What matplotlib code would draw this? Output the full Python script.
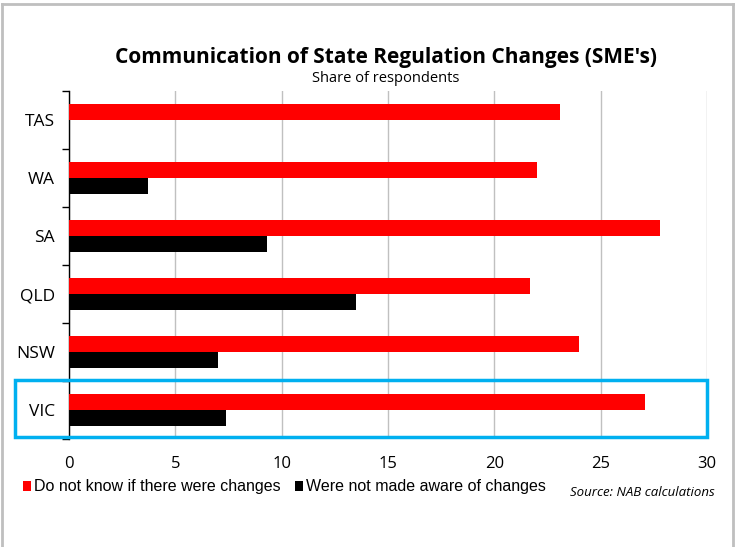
import matplotlib.pyplot as plt
from matplotlib.patches import Rectangle
import numpy as np

# data
states = ['TAS', 'WA', 'SA', 'QLD', 'NSW', 'VIC']
dont_know = [23.1, 22.0, 27.8, 21.7, 24.0, 27.1]
not_aware = [0.0, 3.7, 9.3, 13.5, 7.0, 7.4]
x_ticks = [0, 5, 10, 15, 20, 25, 30]

fig = plt.figure(figsize=(7.4, 5.47), dpi=100)
ax = fig.add_axes([0.0932, 0.1974, 0.8622, 0.6362])

n = len(states)
ypos = np.arange(n)[::-1]  # TAS on top
h = 0.28
ax.barh(ypos + h / 2, dont_know, height=h, color='#ff0000',
        label='Do not know if there were changes', zorder=3)
ax.barh(ypos - h / 2, not_aware, height=h, color='#000000',
        label='Were not made aware of changes', zorder=3)

ax.set_xlim(0, 30)
ax.set_ylim(-0.5, n - 0.5)
ax.set_xticks(x_ticks)
ax.set_xticklabels([str(t) for t in x_ticks], fontsize=12, family='Open Sans')
ax.tick_params(axis='x', length=0, pad=12)
ax.xaxis.grid(True, color='#c0c0c0', linewidth=1, zorder=0)

# category boundaries as major ticks, labels on minor
ax.set_yticks(np.arange(-0.5, n, 1.0))
ax.set_yticklabels([])
ax.set_yticks(ypos, minor=True)
ax.set_yticklabels(states, minor=True, fontsize=12.5, family='Open Sans')
ax.tick_params(axis='y', which='major', length=5, width=1, color='black')
ax.tick_params(axis='y', which='minor', length=0, pad=10)

for s in ['top', 'right', 'bottom']:
    ax.spines[s].set_visible(False)
ax.spines['left'].set_color('black')
ax.spines['left'].set_linewidth(1)

# highlight VIC
box = Rectangle((15 / 740, 1 - 437 / 547), (707 - 15) / 740, (437 - 380) / 547,
                transform=fig.transFigure, fill=False, edgecolor='#00b0f0',
                linewidth=2.5, zorder=5)
fig.patches.append(box)

# outer frame
frame_col = '#bfbfbf'
fig.add_artist(plt.Line2D([2 / 740, 2 / 740], [0, 1 - 4 / 547], transform=fig.transFigure, color=frame_col, lw=2))
fig.add_artist(plt.Line2D([733 / 740, 733 / 740], [0, 1 - 4 / 547], transform=fig.transFigure, color=frame_col, lw=2))
fig.add_artist(plt.Line2D([2 / 740, 733 / 740], [1 - 4 / 547, 1 - 4 / 547], transform=fig.transFigure, color=frame_col, lw=2))

fig.text(386 / 740, 1 - 57 / 547, "Communication of State Regulation Changes (SME's)",
         ha='center', va='center', fontsize=15, fontweight='bold', family='Open Sans')
fig.text(386 / 740, 1 - 78 / 547, 'Share of respondents',
         ha='center', va='center', fontsize=10.5, family='Open Sans')

leg = ax.legend(loc='center left', bbox_to_anchor=(23 / 740, 1 - 487 / 547),
                bbox_transform=fig.transFigure, ncol=2, frameon=False,
                handlelength=0.5, handleheight=0.6, handletextpad=0.2,
                columnspacing=0.9, borderaxespad=0, borderpad=0,
                prop={'family': 'Liberation Sans', 'size': 11.5})

fig.text(715 / 740, 1 - 493 / 547, 'Source: NAB calculations', ha='right', va='center',
         fontsize=9.5, style='italic', family='Open Sans')

fig.savefig('out.png', dpi=100)
